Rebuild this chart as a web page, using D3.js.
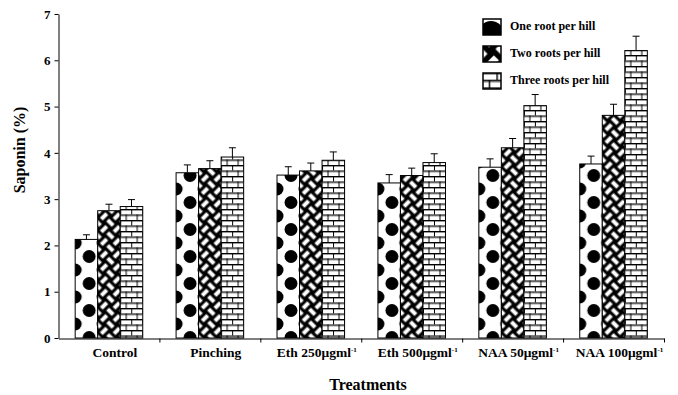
<!DOCTYPE html>
<html>
<head>
<meta charset="utf-8">
<script src="https://cdn.jsdelivr.net/npm/d3@7"></script>
<style>
body { margin: 0; background: #fff; }
text { font-family: "Liberation Serif", "Times New Roman", serif; font-weight: bold; }
</style>
</head>
<body>
<svg width="678" height="395"></svg>
<script>
var categories = ["Control", "Pinching", "Eth 250\u03bcgml", "Eth 500\u03bcgml", "NAA 50\u03bcgml", "NAA 100\u03bcgml"];
var categorySup = ["", "", "-1", "-1", "-1", "-1"];
var series = ["One root per hill", "Two roots per hill", "Three roots per hill"];

var oneRoot = [2.13, 3.57, 3.52, 3.35, 3.69, 3.76];
var twoRoots = [2.75, 3.66, 3.61, 3.51, 4.11, 4.81];
var threeRoots = [2.84, 3.91, 3.84, 3.79, 5.02, 6.21];

var oneErr = [0.10, 0.17, 0.18, 0.18, 0.18, 0.17];
var twoErr = [0.14, 0.17, 0.17, 0.16, 0.20, 0.24];
var threeErr = [0.15, 0.20, 0.18, 0.19, 0.24, 0.31];

var yTicks = [0, 1, 2, 3, 4, 5, 6, 7];

var values = [oneRoot, twoRoots, threeRoots];
var errors = [oneErr, twoErr, threeErr];
var patterns = ["dots", "weave", "brick"];

var svg = d3.select("svg");
var defs = svg.append("defs");

// polka dots
function makeDots(id, tf) {
    var p = defs.append("pattern")
        .attr("id", id)
        .attr("patternUnits", "userSpaceOnUse")
        .attr("width", 28)
        .attr("height", 27);
    if (tf) p.attr("patternTransform", tf);
    p.append("rect").attr("width", 28).attr("height", 27).attr("fill", "#fff");
    [[0, 0], [28, 0], [0, 27], [28, 27], [14, 13.5]].forEach(function(c) {
        p.append("circle").attr("cx", c[0]).attr("cy", c[1]).attr("r", 6.5).attr("fill", "#000");
    });
}

// basket weave, turned 45 degrees
function makeWeave(id, tf) {
    var p = defs.append("pattern")
        .attr("id", id)
        .attr("patternUnits", "userSpaceOnUse")
        .attr("width", 18)
        .attr("height", 18)
        .attr("patternTransform", tf + " rotate(45)");
    p.append("rect").attr("width", 18).attr("height", 18).attr("fill", "#000");
    [[0.6, 2.5, 7.8, 4], [11.5, 0.6, 4, 7.8], [2.5, 9.6, 4, 7.8], [9.6, 11.5, 7.8, 4]].forEach(function(r) {
        p.append("rect").attr("x", r[0]).attr("y", r[1]).attr("width", r[2]).attr("height", r[3]).attr("fill", "#fff");
    });
}

// bricks
function makeBrick(id, tf) {
    var p = defs.append("pattern")
        .attr("id", id)
        .attr("patternUnits", "userSpaceOnUse")
        .attr("width", 11)
        .attr("height", 11);
    if (tf) p.attr("patternTransform", tf);
    p.append("rect").attr("width", 11).attr("height", 11).attr("fill", "#fff");
    p.append("path").attr("d", "M0,1.5H11M0,7H11").attr("stroke", "#999").attr("stroke-width", 1);
    p.append("path").attr("d", "M0,0.5H11M0,6H11M0.5,0V5.5M6,5.5V11").attr("stroke", "#000").attr("stroke-width", 1);
}

makeDots("dots", "");
makeWeave("weave", "");
makeBrick("brick", "");
// legend swatches show the fills blown up
makeDots("dots-leg", "translate(-20,-12) scale(2)");
makeWeave("weave-leg", "translate(-3,-6) scale(1.8)");
makeBrick("brick-leg", "translate(-2,-1) scale(1.4)");

var x0 = d3.scaleBand()
    .domain(categories)
    .range([58.5, 664]);

var x1 = d3.scaleBand()
    .domain(series)
    .range([0, x0.bandwidth()])
    .paddingOuter(0.74);

var y = d3.scaleLinear()
    .domain([0, 7])
    .range([338, 14]);

var bw = x1.bandwidth();

// bars
categories.forEach(function(c, i) {
    series.forEach(function(s, j) {
        var v = values[j][i];
        var bx = x0(c) + x1(s);
        var g = svg.append("g").attr("transform", "translate(" + bx + ",0)");
        g.append("rect")
            .attr("x", 0)
            .attr("y", y(v))
            .attr("width", bw)
            .attr("height", y(0) - y(v))
            .attr("fill", "url(#" + patterns[j] + ")")
            .attr("stroke", "#000")
            .attr("stroke-width", 1);

        var top = y(v + errors[j][i]);
        g.append("path")
            .attr("d", "M" + (bw / 2) + "," + y(v) + "V" + top + "M" + (bw / 2 - 3.5) + "," + top + "H" + (bw / 2 + 3.5))
            .attr("stroke", "#000")
            .attr("stroke-width", 1)
            .attr("fill", "none");
    });
});

// axes
var yAxis = svg.append("g")
    .attr("transform", "translate(58.5,0)")
    .call(d3.axisLeft(y).tickValues(yTicks).tickFormat(d3.format("d")).tickSize(4).tickSizeOuter(0).tickPadding(4));
yAxis.attr("font-family", null).attr("font-size", 13);

var xb = d3.scaleLinear()
    .domain([0, categories.length])
    .range([58.5, 664]);

svg.append("g")
    .attr("transform", "translate(0,338.5)")
    .call(d3.axisBottom(xb).tickValues(d3.range(1, categories.length + 1)).tickSize(4).tickSizeOuter(0).tickFormat(""));

svg.selectAll(".domain, .tick line").attr("stroke", "#000");

// category labels
categories.forEach(function(c, i) {
    var t = svg.append("text")
        .attr("x", x0(c) + x0.bandwidth() / 2 + 6)
        .attr("y", 357)
        .attr("text-anchor", "middle")
        .attr("font-size", 13.5);
    t.append("tspan").text(c);
    if (categorySup[i]) {
        t.append("tspan").attr("font-size", 7).attr("dy", -5).text(categorySup[i]);
    }
});

svg.append("text")
    .attr("x", 368)
    .attr("y", 390)
    .attr("text-anchor", "middle")
    .attr("font-size", 16)
    .text("Treatments");

svg.append("text")
    .attr("transform", "translate(25,150) rotate(-90)")
    .attr("text-anchor", "middle")
    .attr("font-size", 16)
    .text("Saponin (%)");

// legend
series.forEach(function(s, j) {
    var base = 30 + j * 27;
    var lg = svg.append("g").attr("transform", "translate(483," + (base - 11) + ")");
    lg.append("rect")
        .attr("width", 18)
        .attr("height", 16)
        .attr("fill", "url(#" + patterns[j] + "-leg)")
        .attr("stroke", "#000")
        .attr("stroke-width", 1.5);
    svg.append("text")
        .attr("x", 510)
        .attr("y", base)
        .attr("font-size", 12)
        .text(s);
});
</script>
</body>
</html>
